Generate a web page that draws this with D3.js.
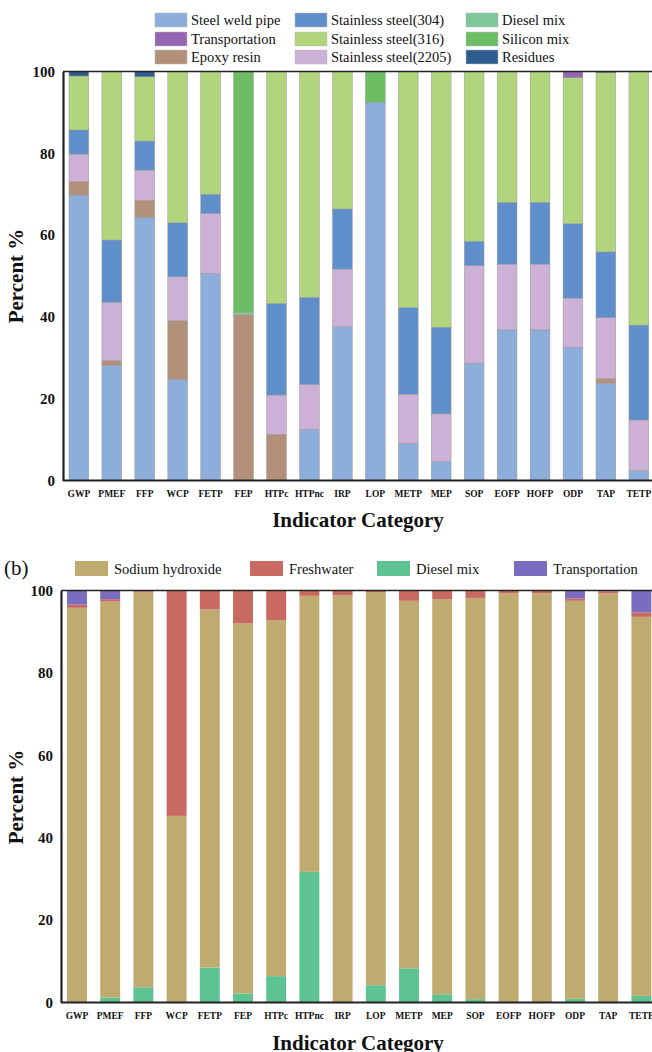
<!DOCTYPE html>
<html>
<head>
<meta charset="utf-8">
<script src="https://cdn.jsdelivr.net/npm/d3@7"></script>
<style>
html,body{margin:0;padding:0;background:#fff;}
svg{display:block;}
text{font-family:"Liberation Serif","Times New Roman",serif;fill:#111;}
</style>
</head>
<body>
<svg id="chart" width="652" height="1052"></svg>
<script>
// ---------- DATA ----------
const categories = ["GWP","PMEF","FFP","WCP","FETP","FEP","HTPc","HTPnc","IRP","LOP","METP","MEP","SOP","EOFP","HOFP","ODP","TAP","TETP"];
const yTicks = [0,20,40,60,80,100];

// Panel (a) series, stacked bottom -> top
const steelWeldPipe = [69.8,28.2,64.3,24.7,50.6,0,0,12.5,37.6,92.5,9.1,4.6,28.7,36.8,36.8,32.6,23.8,2.4];
const epoxyResin    = [3.3,1.1,4.2,14.4,0,40.5,11.3,0,0,0,0,0,0,0,0,0,1.1,0];
const ss2205        = [6.7,14.3,7.4,10.7,14.7,0,9.6,11.0,14.1,0,12.0,11.7,23.8,16.1,16.1,12.0,14.9,12.4];
const ss304         = [5.9,15.2,7.1,13.2,4.7,0,22.4,21.3,14.7,0,21.2,21.2,6.0,15.1,15.1,18.2,16.1,23.2];
const ss316         = [13.2,41.2,15.7,37.0,30.0,0,56.7,55.2,33.6,0,57.7,62.5,41.5,32.0,32.0,35.7,43.8,62.0];
const dieselMixA    = [0,0,0,0,0,0.6,0,0,0,0,0,0,0,0,0,0,0,0];
const siliconMix    = [0,0,0,0,0,58.9,0,0,0,7.5,0,0,0,0,0,0,0,0];
const transportA    = [0,0,0,0,0,0,0,0,0,0,0,0,0,0,0,1.5,0,0];
const residues      = [1.1,0,1.3,0,0,0,0,0,0,0,0,0,0,0,0,0,0.3,0];

// Panel (b) series, stacked bottom -> top
const dieselMixB    = [0,1.2,3.7,0,8.5,2.2,6.4,31.7,0,4.2,8.3,2.0,0.8,0,0,0.9,0,1.6];
const sodiumHydrox  = [95.8,96.1,95.8,45.3,86.9,89.8,86.4,67.0,98.8,95.4,89.2,95.9,97.4,99.3,99.3,96.6,99.3,92.0];
const freshwater    = [0.8,0.6,0.3,54.7,4.6,8.0,7.2,1.3,1.2,0.4,2.5,2.1,1.8,0.7,0.7,0.6,0.5,1.1];
const transportB    = [3.4,2.1,0.2,0,0,0,0,0,0,0,0,0,0,0,0,1.9,0.2,5.3];

const seriesA = [
  {name:"Steel weld pipe", values:steelWeldPipe, color:"#8DAEDA"},
  {name:"Epoxy resin", values:epoxyResin, color:"#B39079"},
  {name:"Stainless steel(2205)", values:ss2205, color:"#CCB0D5"},
  {name:"Stainless steel(304)", values:ss304, color:"#5E8FCB"},
  {name:"Stainless steel(316)", values:ss316, color:"#B1D57C"},
  {name:"Diesel mix", values:dieselMixA, color:"#7DC79B"},
  {name:"Silicon mix", values:siliconMix, color:"#6DBE63"},
  {name:"Transportation", values:transportA, color:"#9566B1"},
  {name:"Residues", values:residues, color:"#2F5C8F"}
];
const legendA = [
  ["Steel weld pipe","Stainless steel(304)","Diesel mix"],
  ["Transportation","Stainless steel(316)","Silicon mix"],
  ["Epoxy resin","Stainless steel(2205)","Residues"]
];
const seriesB = [
  {name:"Diesel mix", values:dieselMixB, color:"#5DC392"},
  {name:"Sodium hydroxide", values:sodiumHydrox, color:"#BFAB6F"},
  {name:"Freshwater", values:freshwater, color:"#C86A61"},
  {name:"Transportation", values:transportB, color:"#7B6CC0"}
];
const legendB = ["Sodium hydroxide","Freshwater","Diesel mix","Transportation"];

// ---------- DRAW ----------
const SERIF = "'Liberation Serif','Times New Roman',serif";
const svg = d3.select("#chart");

function panel(opts){
  const g = svg.append("g");
  const x = d3.scaleBand().domain(categories).range([opts.x0, opts.x1]).paddingInner(0.4).paddingOuter(0.2);
  const y = d3.scaleLinear().domain([0,100]).range([opts.yBottom, opts.yTop]);
  const rows = categories.map((c,i)=>{ const o={cat:c}; opts.series.forEach(s=>o[s.name]=s.values[i]); return o;});
  const stack = d3.stack().keys(opts.series.map(s=>s.name))(rows);
  const colorOf = Object.fromEntries(opts.series.map(s=>[s.name,s.color]));

  g.selectAll("g.layer").data(stack).join("g").attr("class","layer")
    .attr("fill", d=>colorOf[d.key])
    .selectAll("rect").data(d=>d.filter(p=>p[1]-p[0]>0)).join("rect")
    .attr("x", d=>x(d.data.cat))
    .attr("width", x.bandwidth())
    .attr("y", d=>y(d[1]))
    .attr("height", d=>y(d[0])-y(d[1]))
    .attr("stroke", opts.stroke)
    .attr("stroke-width", opts.stroke==="none"?0:0.5);

  // frame: top line
  g.append("line").attr("x1",opts.axisX).attr("x2",652).attr("y1",opts.yTop).attr("y2",opts.yTop)
    .attr("stroke","#222").attr("stroke-width",1.5);

  // y axis
  const ya = g.append("g").attr("transform",`translate(${opts.axisX},0)`)
    .call(d3.axisLeft(y).tickValues(yTicks).tickSize(0).tickPadding(8).tickFormat(d3.format("d")));
  ya.attr("font-family",SERIF);
  ya.select(".domain").attr("stroke","#222").attr("stroke-width",2.2);
  ya.selectAll("text").style("font-family",SERIF).style("font-size","15px").style("font-weight","bold").attr("fill","#111");

  // x axis
  const xa = g.append("g").attr("transform",`translate(0,${opts.yBottom})`)
    .call(d3.axisBottom(x).tickSize(0).tickPadding(10));
  xa.attr("font-family",SERIF);
  xa.select(".domain").attr("d",`M${opts.axisX},0H652`).attr("stroke","#222").attr("stroke-width",2.2);
  xa.selectAll("text").style("font-family",SERIF).style("font-size","9.5px").style("font-weight","bold").attr("fill","#111");

  // y title
  g.append("text").attr("transform",`translate(23,${opts.yTitleY}) rotate(-90)`)
    .attr("text-anchor","middle").style("font-family",SERIF).style("font-size","21px").style("font-weight","bold").text("Percent %");
  // x title
  g.append("text").attr("x",358).attr("y",opts.xTitleY).attr("text-anchor","middle")
    .style("font-family",SERIF).style("font-size","21px").style("font-weight","bold").text("Indicator Category");
  return {x,y};
}

panel({series:seriesA, x0:62.4, x1:655.3, yTop:71.5, yBottom:480.5, axisX:63, stroke:"#9a9a9a", yTitleY:276, xTitleY:527});
panel({series:seriesB, x0:60.4, x1:658, yTop:590.5, yBottom:1002.5, axisX:61, stroke:"none", yTitleY:797, xTitleY:1050});

// legend (a)
const colA = Object.fromEntries(seriesA.map(s=>[s.name,s.color]));
const legColX = [155,295,466];
const legRowY = [13,32,50];
const lgA = svg.append("g");
legendA.forEach((row,ri)=>row.forEach((name,ci)=>{
  lgA.append("rect").attr("x",legColX[ci]).attr("y",legRowY[ri]).attr("width",32).attr("height",14)
    .attr("fill",colA[name]).attr("stroke","#bbb").attr("stroke-width",0.5);
  lgA.append("text").attr("x",legColX[ci]+36).attr("y",legRowY[ri]+12)
    .style("font-family",SERIF).style("font-size","14.5px").text(name);
}));

// legend (b)
const colB = Object.fromEntries(seriesB.map(s=>[s.name,s.color]));
const legBX = [75,250,377,514];
const lgB = svg.append("g");
legendB.forEach((name,i)=>{
  lgB.append("rect").attr("x",legBX[i]).attr("y",561).attr("width",33).attr("height",15)
    .attr("fill",colB[name]);
  lgB.append("text").attr("x",legBX[i]+39).attr("y",574)
    .style("font-family",SERIF).style("font-size","14.5px").text(name);
});
svg.append("text").attr("x",4).attr("y",575).style("font-family",SERIF).style("font-size","21px").text("(b)");
</script>
</body>
</html>
